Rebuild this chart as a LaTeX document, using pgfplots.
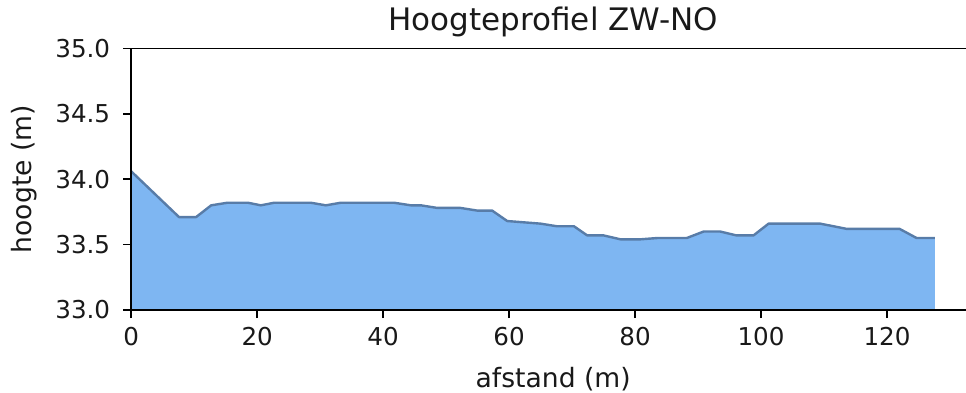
\documentclass[border=0pt]{standalone}
\usepackage{pgfplots}
\pgfplotsset{compat=1.18}
\usepackage{pgfplotstable}
\usepackage{fontspec}
\setmainfont{DejaVu Sans}
\definecolor{fillc}{RGB}{126,182,242}
\definecolor{linec}{RGB}{88,124,168}
\pgfplotstableread{
x y
0 34.06
7.6 33.71
10.3 33.71
12.7 33.80
15.3 33.82
18.5 33.82
20.6 33.80
22.7 33.82
28.5 33.82
30.9 33.80
33.3 33.82
41.7 33.82
44.4 33.80
46.0 33.80
48.6 33.78
52.3 33.78
54.9 33.76
57.3 33.76
59.7 33.68
65.0 33.66
67.6 33.64
70.3 33.64
72.4 33.57
75.0 33.57
77.7 33.54
80.8 33.54
83.5 33.55
88.2 33.55
90.9 33.60
93.5 33.60
96.1 33.57
98.8 33.57
101.2 33.66
109.4 33.66
113.6 33.62
122.0 33.62
124.7 33.55
127.6 33.55
}\profile
\begin{document}
\begin{tikzpicture}
\path[use as bounding box] (-65.6pt,-41pt) rectangle (417.4pt,155pt);
\begin{axis}[
  at={(0,0)}, anchor=south west,
  scale only axis, width=422pt, height=130.85pt,
  xmin=0, xmax=134, ymin=33, ymax=35,
  xtick={0,20,...,120}, ytick={33,33.5,...,35},
  axis line style={line width=0.8pt},
  tick style={line width=0.8pt, black},
  tick align=outside, major tick length=4pt,
  xtick pos=bottom, ytick pos=left,
  /pgf/number format/assume math mode=true,
  yticklabel style={xshift=-3pt, /pgf/number format/fixed, /pgf/number format/fixed zerofill, /pgf/number format/precision=1},
  ticklabel style={font=\fontsize{12.3}{14}\selectfont, text=black!90},
  xticklabel style={yshift=-1pt},
  xlabel={afstand (m)}, ylabel={hoogte (m)},
  label style={font=\fontsize{13.3}{15}\selectfont, text=black!90},
  xlabel style={yshift=-4pt},
  ylabel style={yshift=2.5pt},
  title={Hoogteprofiel ZW-NO},
  title style={font=\fontsize{15.5}{18}\selectfont, text=black!90, yshift=-4pt},
  axis on top,
]
\addplot[fill=fillc, draw=none] table[x=x,y=y]{\profile} \closedcycle;
\addplot[draw=linec, line width=1.2pt, line join=round] table[x=x,y=y]{\profile};
\end{axis}
\end{tikzpicture}
\end{document}
